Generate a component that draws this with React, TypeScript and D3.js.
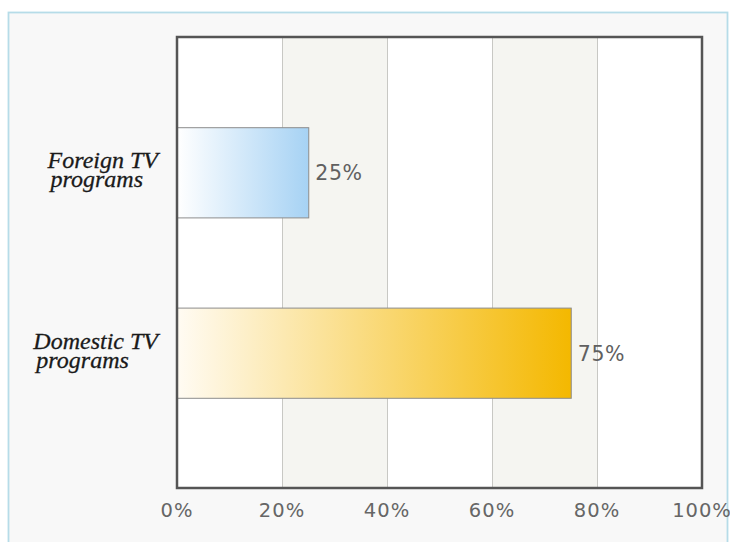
import React from "react";
import * as d3 from "d3";

const categories = ["Foreign TV programs", "Domestic TV programs"];
const categoryLines = [
  ["Foreign TV", "programs"],
  ["Domestic TV", "programs"],
];
const values = [25, 75];
const valueLabels = ["25%", "75%"];
const tickValues = [0, 20, 40, 60, 80, 100];
const tickLabels = ["0%", "20%", "40%", "60%", "80%", "100%"];

const barGradients = [
  { from: "#ffffff", to: "#a6d2f4" },
  { from: "#fffbf3", to: "#f4b800" },
];

const W = 730;
const H = 542;
const plot = { left: 177, right: 702, top: 37, bottom: 488 };
const labelFont = "italic 24px 'Liberation Serif'";

function measure(text: string, font: string): number {
  try {
    const c = document.createElement("canvas");
    const ctx = c.getContext("2d");
    if (!ctx) return text.length * 10;
    ctx.font = font;
    return ctx.measureText(text).width;
  } catch {
    return text.length * 10;
  }
}

export default function App() {
  const x = d3.scaleLinear().domain([0, 100]).range([plot.left, plot.right]);
  const y = d3
    .scaleBand<string>()
    .domain(categories)
    .range([plot.top, plot.bottom])
    .paddingInner(0.5)
    .paddingOuter(0.5);

  const stripes = d3.range(tickValues.length - 1).filter((i) => i % 2 === 1);

  return (
    <svg
      width={W}
      height={H}
      style={{ position: "absolute", left: 0, top: 0 }}
    >
      <defs>
        {barGradients.map((g, i) => (
          <linearGradient key={i} id={`bar${i}`} x1="0" x2="1" y1="0" y2="0">
            <stop offset="0%" stopColor={g.from} />
            <stop offset="100%" stopColor={g.to} />
          </linearGradient>
        ))}
      </defs>
      <rect x={0} y={0} width={W} height={H} fill="#ffffff" />
      {/* outer panel */}
      <rect
        x={8.5}
        y={12.5}
        width={719}
        height={H}
        fill="#f8f8f8"
        stroke="#b6dce8"
        strokeWidth={1.8}
      />
      {/* plot background */}
      <rect
        x={plot.left}
        y={plot.top}
        width={plot.right - plot.left}
        height={plot.bottom - plot.top}
        fill="#ffffff"
      />
      {stripes.map((i) => (
        <rect
          key={`s${i}`}
          x={x(tickValues[i])}
          y={plot.top}
          width={x(tickValues[i + 1]) - x(tickValues[i])}
          height={plot.bottom - plot.top}
          fill="#f5f5f1"
        />
      ))}
      {tickValues.slice(1, -1).map((t) => (
        <line
          key={`g${t}`}
          x1={Math.round(x(t)) + 0.5}
          x2={Math.round(x(t)) + 0.5}
          y1={plot.top}
          y2={plot.bottom}
          stroke="#c8c8c4"
          strokeWidth={1}
        />
      ))}
      {/* bars */}
      {categories.map((c, i) => (
        <g key={c}>
          <rect
            x={x(0) + 0.5}
            y={(y(c) as number) + 0.5}
            width={x(values[i]) - x(0)}
            height={y.bandwidth()}
            fill={`url(#bar${i})`}
            stroke="#8c8c8c"
            strokeWidth={1}
          />
          <text
            x={x(values[i]) + 7}
            y={(y(c) as number) + y.bandwidth() / 2 + 8}
            fontFamily="'DejaVu Sans', Verdana, sans-serif"
            fontSize={20.5}
            letterSpacing={0.6}
            fill="#606060"
          >
            {valueLabels[i]}
          </text>
        </g>
      ))}
      {/* plot frame */}
      <rect
        x={plot.left}
        y={plot.top}
        width={plot.right - plot.left}
        height={plot.bottom - plot.top}
        fill="none"
        stroke="#555555"
        strokeWidth={2.5}
      />
      {/* category labels */}
      {categories.map((c, i) => {
        const lines = categoryLines[i];
        const w = measure(lines[0], labelFont);
        const left = 158 - w;
        const cy = (y(c) as number) + y.bandwidth() / 2;
        return (
          <text
            key={`l${c}`}
            fontFamily="'Liberation Serif', 'Times New Roman', serif"
            fontStyle="italic"
            fontSize={24}
            fill="#1a1a1a"
            stroke="#1a1a1a"
            strokeWidth={0.3}
          >
            <tspan x={left} y={cy - 4}>
              {lines[0]}
            </tspan>
            <tspan x={left + 3} y={cy + 15}>
              {lines[1]}
            </tspan>
          </text>
        );
      })}
      {/* tick labels */}
      {tickValues.map((t, i) => (
        <text
          key={`t${t}`}
          x={x(t)}
          y={plot.bottom + 29}
          textAnchor="middle"
          fontFamily="'DejaVu Sans', Verdana, sans-serif"
          fontSize={19.5}
          letterSpacing={1}
          fill="#666666"
        >
          {tickLabels[i]}
        </text>
      ))}
    </svg>
  );
}
